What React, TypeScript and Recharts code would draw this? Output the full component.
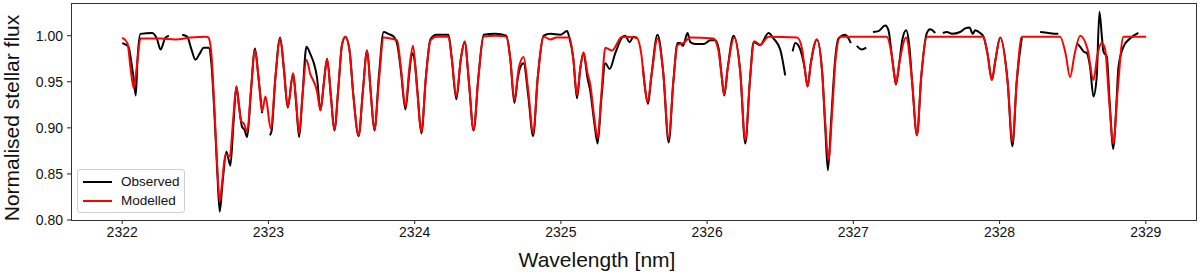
import { LineChart, Line, XAxis, YAxis } from "recharts";

// wavelength [nm], normalised flux
const modelled: [number, number][] = [
  [2322.000, 0.998], [2322.036, 0.992], [2322.057, 0.965], [2322.079, 0.943], [2322.101, 0.968], [2322.125, 0.997],
  [2322.262, 0.997], [2322.364, 0.996], [2322.467, 0.998], [2322.576, 0.999], [2322.590, 0.998], [2322.610, 0.980],
  [2322.631, 0.920], [2322.651, 0.855], [2322.667, 0.820], [2322.686, 0.845], [2322.706, 0.871], [2322.736, 0.869],
  [2322.757, 0.905], [2322.781, 0.945], [2322.798, 0.925], [2322.814, 0.907], [2322.831, 0.905], [2322.855, 0.896],
  [2322.880, 0.940], [2322.908, 0.984], [2322.932, 0.955], [2322.957, 0.918], [2322.980, 0.934], [2323.016, 0.899],
  [2323.048, 0.955], [2323.080, 0.997], [2323.106, 0.965], [2323.132, 0.923], [2323.169, 0.959], [2323.189, 0.930],
  [2323.210, 0.894], [2323.233, 0.935], [2323.260, 0.974], [2323.287, 0.958], [2323.311, 0.950], [2323.332, 0.940],
  [2323.356, 0.919], [2323.380, 0.950], [2323.401, 0.975], [2323.427, 0.935], [2323.451, 0.898], [2323.479, 0.945],
  [2323.503, 0.990], [2323.526, 0.999], [2323.554, 0.985], [2323.581, 0.935], [2323.617, 0.892], [2323.646, 0.940],
  [2323.675, 0.984], [2323.699, 0.940], [2323.725, 0.898], [2323.755, 0.950], [2323.788, 0.998], [2323.834, 0.997],
  [2323.880, 0.995], [2323.906, 0.965], [2323.937, 0.923], [2323.964, 0.965], [2323.989, 0.989], [2324.015, 0.945],
  [2324.046, 0.896], [2324.077, 0.955], [2324.108, 0.995], [2324.149, 0.999], [2324.231, 0.999], [2324.254, 0.975],
  [2324.285, 0.934], [2324.316, 0.975], [2324.342, 0.994], [2324.371, 0.950], [2324.403, 0.898], [2324.436, 0.955],
  [2324.472, 0.999], [2324.552, 1.000], [2324.627, 0.999], [2324.654, 0.975], [2324.682, 0.930], [2324.712, 0.965],
  [2324.745, 0.977], [2324.777, 0.940], [2324.810, 0.895], [2324.842, 0.955], [2324.882, 0.999], [2324.928, 0.996],
  [2324.969, 0.998], [2325.058, 0.998], [2325.085, 0.975], [2325.110, 0.936], [2325.133, 0.965], [2325.155, 0.982],
  [2325.181, 0.960], [2325.201, 0.947], [2325.229, 0.910], [2325.251, 0.889], [2325.276, 0.935], [2325.304, 0.987],
  [2325.350, 0.984], [2325.418, 0.999], [2325.516, 0.998], [2325.550, 0.980], [2325.570, 0.950], [2325.593, 0.928],
  [2325.618, 0.955], [2325.661, 0.997], [2325.700, 0.960], [2325.737, 0.889], [2325.769, 0.950], [2325.798, 0.990],
  [2325.837, 0.992], [2325.885, 0.998], [2326.042, 0.997], [2326.076, 0.985], [2326.097, 0.960], [2326.117, 0.936],
  [2326.141, 0.965], [2326.186, 0.998], [2326.227, 0.960], [2326.261, 0.887], [2326.292, 0.950], [2326.322, 0.994],
  [2326.363, 0.990], [2326.420, 0.999], [2326.616, 0.998], [2326.650, 0.985], [2326.667, 0.965], [2326.687, 0.945],
  [2326.709, 0.970], [2326.751, 0.996], [2326.787, 0.960], [2326.808, 0.905], [2326.830, 0.865], [2326.856, 0.920],
  [2326.879, 0.975], [2326.910, 0.999], [2327.227, 0.999], [2327.261, 0.980], [2327.278, 0.960], [2327.291, 0.948],
  [2327.314, 0.970], [2327.361, 0.998], [2327.402, 0.950], [2327.435, 0.892], [2327.464, 0.955], [2327.503, 0.999],
  [2327.888, 0.999], [2327.918, 0.980], [2327.947, 0.952], [2327.973, 0.975], [2328.004, 0.998], [2328.055, 0.950],
  [2328.088, 0.885], [2328.117, 0.950], [2328.152, 0.999], [2328.414, 0.999], [2328.452, 0.980], [2328.482, 0.955],
  [2328.513, 0.980], [2328.551, 1.000], [2328.602, 0.985], [2328.642, 0.952], [2328.670, 0.980], [2328.699, 0.992],
  [2328.722, 0.985], [2328.749, 0.930], [2328.778, 0.883], [2328.807, 0.940], [2328.847, 0.999], [2329.002, 0.999],
];

// observed spectrum has gaps, one array per piece
const obsA: [number, number][] = [
  [2322.000, 0.992], [2322.016, 0.991], [2322.043, 0.988], [2322.064, 0.970], [2322.081, 0.950], [2322.093, 0.935],
  [2322.105, 0.975], [2322.125, 1.002], [2322.205, 1.003], [2322.239, 0.996], [2322.262, 0.985], [2322.296, 0.998],
  [2322.319, 1.000],
];
const obsB: [number, number][] = [
  [2322.410, 1.001], [2322.444, 0.999], [2322.474, 0.985], [2322.501, 0.974], [2322.528, 0.980], [2322.558, 0.987],
  [2322.592, 0.987], [2322.610, 0.970], [2322.631, 0.915], [2322.651, 0.850], [2322.667, 0.809], [2322.686, 0.840],
  [2322.713, 0.874], [2322.740, 0.859], [2322.761, 0.905], [2322.781, 0.945], [2322.798, 0.925], [2322.820, 0.901],
  [2322.836, 0.898], [2322.855, 0.890], [2322.880, 0.938], [2322.908, 0.986], [2322.932, 0.955], [2322.957, 0.916],
];
const obsC: [number, number][] = [
  [2323.009, 0.892], [2323.021, 0.896], [2323.048, 0.955], [2323.080, 0.998], [2323.106, 0.963], [2323.132, 0.922],
  [2323.169, 0.959], [2323.189, 0.928], [2323.210, 0.890], [2323.233, 0.935], [2323.260, 0.988], [2323.287, 0.980],
  [2323.311, 0.970], [2323.332, 0.955], [2323.356, 0.919], [2323.380, 0.950], [2323.401, 0.975], [2323.427, 0.935],
  [2323.451, 0.897], [2323.479, 0.945], [2323.503, 0.990], [2323.526, 0.999], [2323.554, 0.985], [2323.581, 0.935],
  [2323.617, 0.891], [2323.646, 0.940], [2323.675, 0.984], [2323.699, 0.940], [2323.725, 0.897], [2323.755, 0.955],
  [2323.788, 1.004], [2323.820, 1.002], [2323.857, 0.999], [2323.882, 0.990], [2323.906, 0.962], [2323.937, 0.920],
  [2323.961, 0.955], [2323.982, 0.981], [2323.998, 0.975], [2324.019, 0.940], [2324.046, 0.894], [2324.077, 0.955],
  [2324.108, 0.996], [2324.149, 1.001], [2324.231, 1.001], [2324.254, 0.975], [2324.285, 0.931], [2324.316, 0.975],
  [2324.342, 0.993], [2324.371, 0.950], [2324.403, 0.897], [2324.436, 0.955], [2324.472, 1.001], [2324.552, 1.002],
  [2324.627, 1.000], [2324.654, 0.975], [2324.682, 0.927], [2324.706, 0.955], [2324.723, 0.966], [2324.745, 0.970],
  [2324.777, 0.935], [2324.810, 0.891], [2324.842, 0.955], [2324.882, 1.000], [2324.928, 1.002], [2324.996, 1.001],
  [2325.042, 1.005], [2325.058, 0.998], [2325.085, 0.975], [2325.110, 0.932], [2325.133, 0.965], [2325.155, 0.981],
  [2325.181, 0.955], [2325.201, 0.940], [2325.229, 0.905], [2325.251, 0.883], [2325.276, 0.930], [2325.304, 0.970],
  [2325.333, 0.964], [2325.372, 0.981], [2325.418, 0.998], [2325.440, 1.000], [2325.470, 0.993], [2325.497, 0.999],
  [2325.522, 0.997],
];
const obsD: [number, number][] = [
  [2325.561, 0.966], [2325.574, 0.945], [2325.596, 0.926], [2325.618, 0.955], [2325.661, 1.001], [2325.700, 0.960],
  [2325.737, 0.884], [2325.769, 0.950], [2325.798, 0.992], [2325.817, 0.992], [2325.835, 0.989], [2325.866, 1.003],
  [2325.885, 0.993], [2325.919, 0.991], [2325.976, 0.991], [2326.022, 0.995], [2326.056, 0.995], [2326.080, 0.985],
  [2326.097, 0.960], [2326.117, 0.935], [2326.141, 0.965], [2326.181, 1.000], [2326.227, 0.960], [2326.261, 0.883],
  [2326.292, 0.950], [2326.318, 0.993], [2326.363, 0.990], [2326.420, 1.003], [2326.454, 0.997], [2326.500, 0.985],
  [2326.534, 0.957],
];
const obsE: [number, number][] = [
  [2326.585, 0.983], [2326.603, 0.992], [2326.637, 0.985], [2326.667, 0.965], [2326.687, 0.945], [2326.709, 0.970],
  [2326.751, 0.996], [2326.787, 0.960], [2326.808, 0.900], [2326.826, 0.854], [2326.849, 0.910], [2326.876, 0.975],
  [2326.899, 0.997], [2326.945, 1.001], [2326.967, 0.997], [2326.983, 0.992],
];
const obsF: [number, number][] = [[2327.024, 0.989], [2327.058, 0.985], [2327.088, 0.987]];
const obsG: [number, number][] = [
  [2327.134, 1.004], [2327.172, 1.005], [2327.218, 1.011], [2327.240, 1.006], [2327.262, 0.980], [2327.278, 0.960],
  [2327.291, 0.947], [2327.314, 0.970], [2327.334, 0.995], [2327.361, 1.006], [2327.382, 0.990], [2327.402, 0.950],
  [2327.435, 0.892], [2327.464, 0.955], [2327.503, 1.003], [2327.525, 1.007], [2327.560, 1.003],
];
const obsH: [number, number][] = [
  [2327.612, 1.003], [2327.640, 1.004], [2327.674, 1.002], [2327.730, 1.004], [2327.765, 1.008], [2327.794, 1.009],
  [2327.817, 1.002], [2327.833, 1.006], [2327.867, 1.003], [2327.890, 0.999], [2327.918, 0.980], [2327.947, 0.952],
  [2327.973, 0.975], [2328.004, 0.998], [2328.055, 0.950], [2328.088, 0.880], [2328.117, 0.950], [2328.152, 0.998],
];
const obsI: [number, number][] = [[2328.277, 1.004], [2328.334, 1.003], [2328.380, 1.002], [2328.402, 1.002]];
const obsJ: [number, number][] = [
  [2328.528, 0.992], [2328.551, 0.988], [2328.573, 0.983], [2328.597, 0.981], [2328.619, 0.966], [2328.642, 0.934],
  [2328.664, 0.955], [2328.683, 1.026], [2328.699, 1.000], [2328.710, 0.983], [2328.733, 0.977], [2328.752, 0.930],
  [2328.778, 0.877], [2328.797, 0.920], [2328.813, 0.966], [2328.847, 0.988], [2328.892, 0.997], [2328.949, 1.003],
];

const observedPieces = [obsA, obsB, obsC, obsD, obsE, obsF, obsG, obsH, obsI, obsJ];
const xTicks = [2322, 2323, 2324, 2325, 2326, 2327, 2328, 2329];
const yTicks = [0.8, 0.85, 0.9, 0.95, 1.0];

const FONT = '"Liberation Sans", Arial, Helvetica, sans-serif';
const toRows = (pts: [number, number][]) => pts.map(([w, f]) => ({ w, f }));

export default function App() {
  return (
    <div style={{ position: "absolute", left: 0, top: 0, width: 1200, height: 276, background: "#fff", fontFamily: FONT }}>
      <LineChart width={1200} height={276} margin={{ top: 3, right: 3, bottom: 0, left: 0 }}>
        <XAxis
          dataKey="w"
          type="number"
          domain={[2321.65, 2329.35]}
          ticks={xTicks}
          allowDataOverflow
          height={56}
          axisLine={false}
          tickSize={4}
          tickMargin={3}
          tickLine={{ stroke: "#222" }}
          tick={{ fill: "#111", fontSize: 14, fontFamily: FONT }}
        />
        <YAxis
          dataKey="f"
          type="number"
          domain={[0.8, 1.0355]}
          ticks={yTicks}
          allowDataOverflow
          width={71}
          axisLine={false}
          tickSize={4}
          tickMargin={4}
          tickLine={{ stroke: "#222" }}
          tickFormatter={(v: number) => v.toFixed(2)}
          tick={{ fill: "#111", fontSize: 14, fontFamily: FONT }}
        />
        {observedPieces.map((p, i) => (
          <Line
            key={"obs" + i}
            data={toRows(p)}
            dataKey="f"
            type="monotone"
            stroke="#000"
            strokeWidth={2}
            dot={false}
            isAnimationActive={false}
          />
        ))}
        <Line
          data={toRows(modelled)}
          dataKey="f"
          type="monotone"
          stroke="#ff0000"
          strokeWidth={2}
          dot={false}
          isAnimationActive={false}
        />
      </LineChart>

      {/* axes frame */}
      <div style={{ position: "absolute", left: 71, top: 3, width: 1126, height: 218, boxSizing: "border-box", border: "1px solid #333", pointerEvents: "none" }} />

      {/* legend */}
      <div style={{ position: "absolute", left: 77, top: 169, width: 108, height: 44, boxSizing: "border-box", border: "1px solid #d0d0d0", borderRadius: 3, background: "rgba(255,255,255,0.8)", fontSize: 13.5, color: "#111" }}>
        <div style={{ position: "absolute", left: 5, top: 10.5, width: 29, height: 2, background: "#000" }} />
        <div style={{ position: "absolute", left: 43, top: 3.5, lineHeight: "16px" }}>Observed</div>
        <div style={{ position: "absolute", left: 5, top: 30, width: 29, height: 2, background: "#ff0000" }} />
        <div style={{ position: "absolute", left: 43, top: 23, lineHeight: "16px" }}>Modelled</div>
      </div>

      {/* axis titles */}
      <div style={{ position: "absolute", left: 597, top: 248, transform: "translateX(-50%)", fontSize: 21, whiteSpace: "nowrap", color: "#111" }}>
        Wavelength [nm]
      </div>
      <div style={{ position: "absolute", left: 12, top: 118, transform: "translate(-50%, -50%) rotate(-90deg)", fontSize: 21, whiteSpace: "nowrap", color: "#111" }}>
        Normalised stellar flux
      </div>
    </div>
  );
}
